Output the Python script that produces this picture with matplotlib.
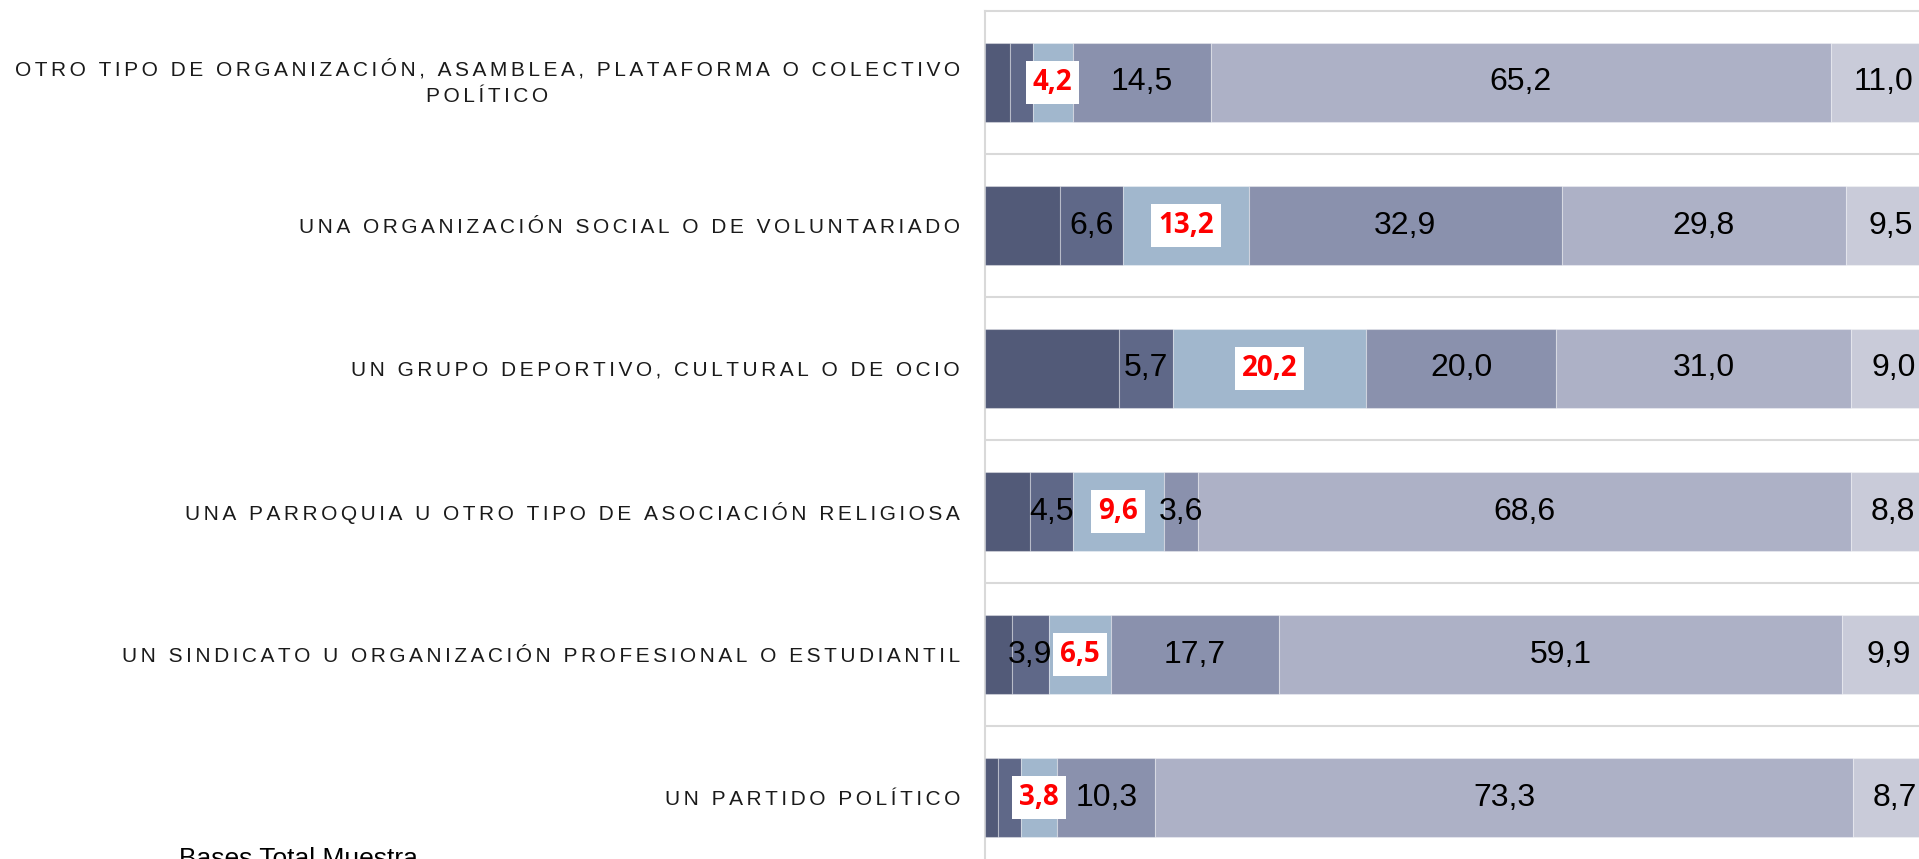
import matplotlib
matplotlib.use("Agg")
import matplotlib.pyplot as plt

categories = [
    "OTRO TIPO DE ORGANIZACIÓN, ASAMBLEA, PLATAFORMA O COLECTIVO\nPOLÍTICO",
    "UNA ORGANIZACIÓN SOCIAL O DE VOLUNTARIADO",
    "UN GRUPO DEPORTIVO, CULTURAL O DE OCIO",
    "UNA PARROQUIA U OTRO TIPO DE ASOCIACIÓN RELIGIOSA",
    "UN SINDICATO U ORGANIZACIÓN PROFESIONAL O ESTUDIANTIL",
    "UN PARTIDO POLÍTICO",
]
s1 = [2.6, 7.9, 14.1, 4.7, 2.8, 1.4]
s2 = [2.4, 6.6, 5.7, 4.5, 3.9, 2.4]
s3 = [4.2, 13.2, 20.2, 9.6, 6.5, 3.8]
s4 = [14.5, 32.9, 20.0, 3.6, 17.7, 10.3]
s5 = [65.2, 29.8, 31.0, 68.6, 59.1, 73.3]
s6 = [11.0, 9.5, 9.0, 8.8, 9.9, 8.7]
footer = "Bases Total Muestra"

series = [s1, s2, s3, s4, s5, s6]
colors = ["#525a78", "#5f6888", "#a1b7cd", "#8a91ad", "#adb1c6", "#c9cbd9"]

W, H = 1919, 859
fig = plt.figure(figsize=(W / 100, H / 100), dpi=100)
ax = fig.add_axes([985 / W, 1 - 869 / H, 952 / W, 858 / H])

ypos = list(range(len(categories)))
left = [0.0] * len(categories)
containers = []
for vals, col in zip(series, colors):
    bc = ax.barh(ypos, vals, left=left, height=0.55, color=col,
                 edgecolor=(1, 1, 1, 0.35), linewidth=0.8, zorder=3)
    containers.append(bc)
    left = [a + b for a, b in zip(left, vals)]

def fmt(v):
    return f"{v:.1f}".replace(".", ",")

black_font = dict(family=["Liberation Sans", "DejaVu Sans"], fontsize=23, color="black")
for k, (bc, vals) in enumerate(zip(containers, series)):
    if k == 0:
        continue
    if k == 1:
        labels = [fmt(v) if v >= 3 else "" for v in vals]
        ax.bar_label(bc, labels=labels, label_type="center", **black_font)
    elif k == 2:
        labels = [fmt(v) for v in vals]
        ax.bar_label(bc, labels=labels, label_type="center",
                     family=["Open Sans", "DejaVu Sans"], fontweight="bold",
                     fontsize=20, color="#ff0000",
                     bbox=dict(boxstyle="square,pad=0.25", fc="white", ec="none"))
    else:
        labels = [fmt(v) for v in vals]
        ax.bar_label(bc, labels=labels, label_type="center", **black_font)

ax.set_xlim(0, 100)
ax.set_ylim(len(categories) - 0.5, -0.5)

def spaced(s):
    return "\n".join("\u2006".join(line) for line in s.split("\n"))

ax.set_yticks(ypos)
ax.set_yticklabels([spaced(c) for c in categories],
                   family=["Liberation Sans", "DejaVu Sans"], fontsize=15, color="#1a1a1a")
for t in ax.get_yticklabels():
    t.set_multialignment("center")
    t.set_linespacing(1.55)
    if "\n" in t.get_text():
        t.set_verticalalignment("center")
ax.tick_params(axis="y", length=0, pad=25 * 0.72)
ax.set_xticks([])

ax.set_yticks([y + 0.5 for y in ypos[:-1]], minor=True)
ax.tick_params(axis="y", which="minor", length=0)
ax.grid(True, axis="y", which="minor", color="#d9d9d9", linewidth=1.5, zorder=0)
ax.set_axisbelow(True)

for side in ["right", "bottom"]:
    ax.spines[side].set_visible(False)
for side in ["top", "left"]:
    ax.spines[side].set_color("#d9d9d9")
    ax.spines[side].set_linewidth(1.5)

fig.text(179 / W, 1 - 866 / H, footer, family=["Liberation Sans", "DejaVu Sans"],
         fontsize=19, color="black", ha="left", va="baseline")

fig.savefig("out.png", dpi=100)
